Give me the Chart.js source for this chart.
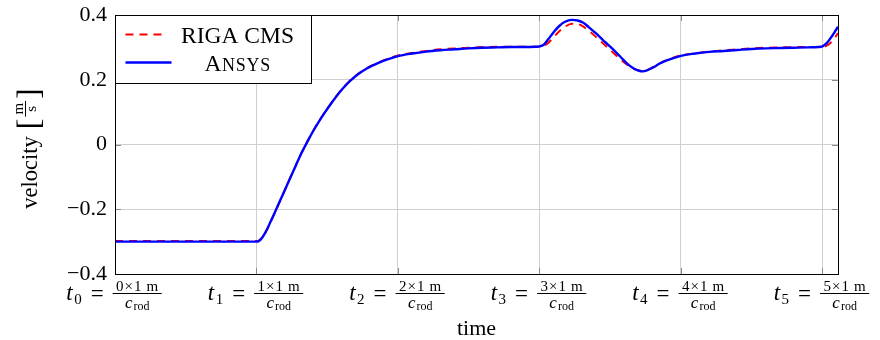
<!DOCTYPE html>
<html><head><meta charset="utf-8">
<script src="https://cdn.jsdelivr.net/npm/chart.js@4.4.0/dist/chart.umd.min.js"></script>
<style>html,body{margin:0;padding:0;background:#fff;}</style>
</head><body>
<canvas id="c" width="880" height="340"></canvas>
<script>
// ---- data ----
const timeValues = [0, 0.25, 0.5, 0.75, 0.98, 1.0, 1.02, 1.04, 1.06, 1.08, 1.10, 1.12, 1.16, 1.20, 1.24, 1.28, 1.32, 1.36, 1.40, 1.44, 1.48, 1.52, 1.56, 1.61, 1.66, 1.72, 1.78, 1.85, 1.92, 2.00, 2.10, 2.20, 2.30, 2.40, 2.50, 2.60, 2.70, 2.80, 2.90, 2.97, 3.00, 3.03, 3.06, 3.10, 3.14, 3.18, 3.23, 3.27, 3.31, 3.35, 3.40, 3.45, 3.50, 3.55, 3.59, 3.63, 3.67, 3.71, 3.73, 3.76, 3.80, 3.85, 3.90, 4.00, 4.10, 4.20, 4.30, 4.40, 4.50, 4.60, 4.70, 4.80, 4.90, 4.97, 5.00, 5.03, 5.06, 5.09, 5.11];
const ansysVelocity = [-0.300, -0.300, -0.300, -0.300, -0.300, -0.300, -0.297, -0.288, -0.274, -0.257, -0.238, -0.219, -0.180, -0.141, -0.102, -0.063, -0.025, 0.009, 0.041, 0.070, 0.097, 0.122, 0.146, 0.173, 0.196, 0.218, 0.235, 0.250, 0.262, 0.273, 0.281, 0.287, 0.291, 0.294, 0.297, 0.299, 0.300, 0.301, 0.301, 0.302, 0.303, 0.308, 0.324, 0.347, 0.366, 0.379, 0.385, 0.383, 0.376, 0.362, 0.343, 0.322, 0.302, 0.281, 0.263, 0.246, 0.234, 0.227, 0.226, 0.229, 0.237, 0.250, 0.260, 0.274, 0.281, 0.286, 0.289, 0.292, 0.295, 0.297, 0.298, 0.299, 0.300, 0.301, 0.303, 0.313, 0.330, 0.350, 0.364];
const rigaVelocity = [-0.298, -0.298, -0.298, -0.298, -0.298, -0.298, -0.296, -0.288, -0.275, -0.258, -0.239, -0.220, -0.181, -0.141, -0.101, -0.062, -0.024, 0.010, 0.042, 0.071, 0.098, 0.123, 0.147, 0.174, 0.197, 0.219, 0.236, 0.251, 0.264, 0.275, 0.283, 0.289, 0.294, 0.297, 0.299, 0.301, 0.302, 0.302, 0.302, 0.302, 0.302, 0.304, 0.313, 0.331, 0.350, 0.364, 0.373, 0.372, 0.364, 0.351, 0.332, 0.312, 0.292, 0.272, 0.256, 0.243, 0.233, 0.228, 0.227, 0.230, 0.239, 0.251, 0.261, 0.275, 0.282, 0.287, 0.291, 0.294, 0.297, 0.299, 0.300, 0.301, 0.301, 0.301, 0.301, 0.305, 0.315, 0.331, 0.344];
const seriesLabels = ['RIGA CMS', 'Ansys'];
const xTickValues = [0, 1, 2, 3, 4, 5];
const xTickNumerators = ['0×1\u2009m', '1×1\u2009m', '2×1\u2009m', '3×1\u2009m', '4×1\u2009m', '5×1\u2009m'];
const yTickValues = [-0.4, -0.2, 0, 0.2, 0.4];
const yTickLabels = ['−0.4', '−0.2', '0', '0.2', '0.4'];
const xAxisTitle = 'time';
const yAxisTitle = 'velocity';
const yUnitNum = 'm', yUnitDen = 's';

const SERIF = '"Liberation Serif", "Times New Roman", serif';
const RED = 'rgb(255,0,0)', BLUE = 'rgb(0,0,255)';

function toPoints(vals) { return timeValues.map((t, i) => ({ x: t, y: vals[i] })); }

const decor = {
  id: 'decor',
  afterDatasetsDraw(chart) {
    const ctx = chart.ctx, a = chart.chartArea, xs = chart.scales.x, ys = chart.scales.y;
    ctx.save();
    // inward tick marks
    ctx.strokeStyle = '#8a8a8a'; ctx.lineWidth = 1;
    ctx.beginPath();
    xTickValues.forEach(v => {
      const px = Math.round(xs.getPixelForValue(v)) + 0.5;
      ctx.moveTo(px, a.bottom); ctx.lineTo(px, a.bottom - 6);
      ctx.moveTo(px, a.top); ctx.lineTo(px, a.top + 6);
    });
    yTickValues.forEach(v => {
      const py = Math.round(ys.getPixelForValue(v)) + 0.5;
      ctx.moveTo(a.left, py); ctx.lineTo(a.left + 6, py);
      ctx.moveTo(a.right, py); ctx.lineTo(a.right - 6, py);
    });
    ctx.stroke();
    // frame
    ctx.strokeStyle = '#000'; ctx.lineWidth = 1;
    ctx.strokeRect(Math.round(a.left) + 0.5, Math.round(a.top) + 0.5, Math.round(a.right - a.left), Math.round(a.bottom - a.top));
    // legend
    const lx = Math.round(a.left) + 0.5, ly = Math.round(a.top) + 0.5, lw = 196, lh = 68;
    ctx.fillStyle = '#fff'; ctx.fillRect(lx, ly, lw, lh);
    ctx.strokeStyle = '#000'; ctx.strokeRect(lx, ly, lw, lh);
    const ds = chart.data.datasets;
    const rows = [ly + 19, ly + 47];
    const textCx = lx + 122;
    // row 1: RIGA CMS (dashed red)
    ctx.strokeStyle = ds[0].borderColor; ctx.lineWidth = ds[0].borderWidth;
    ctx.setLineDash(ds[0].borderDash);
    ctx.beginPath(); ctx.moveTo(lx + 10, rows[0]); ctx.lineTo(lx + 52, rows[0]); ctx.stroke();
    ctx.setLineDash([]);
    ctx.fillStyle = '#000'; ctx.textBaseline = 'alphabetic'; ctx.textAlign = 'center';
    ctx.font = `23.5px ${SERIF}`;
    ctx.fillText(ds[0].label, textCx, rows[0] + 8);
    // row 2: Ansys (solid blue), small caps
    ctx.strokeStyle = ds[1].borderColor; ctx.lineWidth = ds[1].borderWidth;
    ctx.beginPath(); ctx.moveTo(lx + 10, rows[1]); ctx.lineTo(lx + 56, rows[1]); ctx.stroke();
    const lab = ds[1].label, first = lab[0], rest = lab.slice(1).toUpperCase();
    ctx.font = `23.5px ${SERIF}`; const w1 = ctx.measureText(first).width;
    ctx.font = `18px ${SERIF}`; const w2 = ctx.measureText(rest).width + 0.8 * rest.length;
    let sx = textCx - (w1 + w2) / 2;
    ctx.textAlign = 'left';
    ctx.font = `23.5px ${SERIF}`; ctx.fillText(first, sx, rows[1] + 8);
    ctx.font = `18px ${SERIF}`;
    let cx = sx + w1 + 0.5;
    for (const ch of rest) { ctx.fillText(ch, cx, rows[1] + 8); cx += ctx.measureText(ch).width + 0.8; }
    ctx.restore();
  },
  afterDraw(chart) {
    const ctx = chart.ctx, a = chart.chartArea, xs = chart.scales.x;
    ctx.save();
    ctx.fillStyle = '#000'; ctx.textBaseline = 'alphabetic'; ctx.textAlign = 'left';
    // x tick labels: t_i = (i×1 m)/c_rod
    xTickValues.forEach((v, i) => {
      const px = xs.getPixelForValue(v);
      const sub = String(v), num = xTickNumerators[i];
      ctx.letterSpacing = '0px';
      ctx.font = `italic 23px ${SERIF}`; const wT = ctx.measureText('t').width;
      ctx.font = `15px ${SERIF}`; const wS = ctx.measureText(sub).width;
      ctx.letterSpacing = '1px'; const wN = ctx.measureText(num).width; ctx.letterSpacing = '0px';
      ctx.font = `23px ${SERIF}`; const wE = ctx.measureText('=').width;
      ctx.font = `italic 17px ${SERIF}`; const wC = ctx.measureText('c').width;
      ctx.font = `12px ${SERIF}`; const wR = ctx.measureText('rod').width;
      const wD = wC + 1 + wR;
      const wF = Math.max(wN, wD) + 6;
      const gap = 9;
      const total = wT + 1.5 + wS + gap + wE + gap + wF;
      let x0 = px - total / 2 - 1;
      ctx.font = `italic 23px ${SERIF}`; ctx.fillText('t', x0, 300); x0 += wT + 1.5;
      ctx.font = `15px ${SERIF}`; ctx.fillText(sub, x0, 303.5); x0 += wS + gap;
      ctx.font = `23px ${SERIF}`; ctx.fillText('=', x0, 300.5); x0 += wE + gap;
      // fraction
      ctx.fillRect(x0, 293, wF, 1);
      ctx.font = `15px ${SERIF}`; ctx.letterSpacing = '1px';
      ctx.fillText(num, x0 + (wF - wN) / 2 + 0.5, 290.5);
      ctx.letterSpacing = '0px';
      const dx = x0 + (wF - wD) / 2;
      ctx.font = `italic 17px ${SERIF}`; ctx.fillText('c', dx, 307.5);
      ctx.font = `12px ${SERIF}`; ctx.fillText('rod', dx + wC + 1, 310);
    });
    // x axis title
    ctx.font = `22px ${SERIF}`; ctx.textAlign = 'center';
    ctx.fillText(xAxisTitle, (a.left + a.right) / 2, 335);
    // y axis title: velocity [m/s]
    ctx.textAlign = 'left';
    ctx.save();
    ctx.translate(37, (a.top + a.bottom) / 2 + 4);
    ctx.rotate(-Math.PI / 2);
    ctx.font = `22.5px ${SERIF}`; const wV = ctx.measureText(yAxisTitle).width;
    ctx.font = `32px ${SERIF}`; const wB = ctx.measureText('[').width;
    ctx.font = `15px ${SERIF}`; const wFr = Math.max(ctx.measureText(yUnitNum).width, ctx.measureText(yUnitDen).width) + 4;
    const tot = wV + 7 + wB + 2 + wFr + 2 + wB;
    let u = -tot / 2;
    ctx.font = `22.5px ${SERIF}`; ctx.fillText(yAxisTitle, u, 0); u += wV + 7;
    ctx.font = `32px ${SERIF}`; ctx.fillText('[', u, 2); u += wB + 2;
    ctx.fillRect(u, -12, wFr, 1);
    ctx.font = `15px ${SERIF}`;
    ctx.textAlign = 'center';
    ctx.fillText(yUnitNum, u + wFr / 2, -14.5);
    ctx.fillText(yUnitDen, u + wFr / 2, -1.5);
    ctx.textAlign = 'left';
    u += wFr + 2;
    ctx.font = `32px ${SERIF}`; ctx.fillText(']', u, 2);
    ctx.restore();
    ctx.restore();
  }
};

new Chart(document.getElementById('c'), {
  type: 'line',
  data: {
    datasets: [
      { label: seriesLabels[0], data: toPoints(rigaVelocity), borderColor: RED, borderWidth: 1.9, borderDash: [8, 6], pointRadius: 0, fill: false, cubicInterpolationMode: 'monotone', order: 1 },
      { label: seriesLabels[1], data: toPoints(ansysVelocity), borderColor: BLUE, borderWidth: 2.4, pointRadius: 0, fill: false, cubicInterpolationMode: 'monotone', order: 0 }
    ]
  },
  options: {
    responsive: false,
    animation: false,
    devicePixelRatio: 1,
    layout: { padding: { top: 15, right: 42, left: 0, bottom: 0 } },
    plugins: { legend: { display: false }, tooltip: { enabled: false } },
    scales: {
      x: {
        type: 'linear', min: 0, max: 5.11,
        afterBuildTicks: s => { s.ticks = xTickValues.map(v => ({ value: v })); },
        afterFit: s => { s.height = 66; s.paddingLeft = 0; s.paddingRight = 0; },
        ticks: { display: false },
        grid: { color: '#cfcfcf', lineWidth: 1, drawTicks: false },
        border: { display: false }
      },
      y: {
        type: 'linear', min: -0.4, max: 0.4,
        afterBuildTicks: s => { s.ticks = yTickValues.map(v => ({ value: v })); },
        afterFit: s => { s.width = 115; s.paddingTop = 0; s.paddingBottom = 0; },
        ticks: {
          color: '#000', padding: 8, font: { family: SERIF, size: 22 },
          callback: (v) => { const i = yTickValues.findIndex(t => Math.abs(t - v) < 1e-9); return i >= 0 ? yTickLabels[i] : ''; }
        },
        grid: { color: '#cfcfcf', lineWidth: 1, drawTicks: false },
        border: { display: false }
      }
    }
  },
  plugins: [decor]
});
</script>
</body></html>
